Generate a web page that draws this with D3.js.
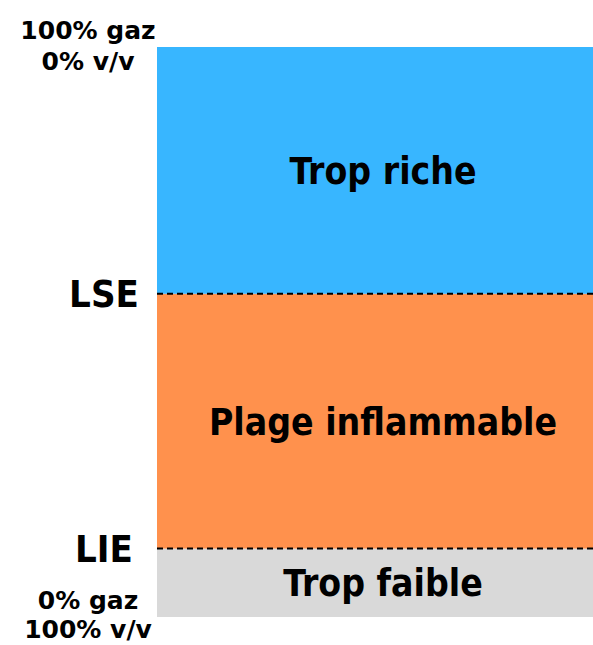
<!DOCTYPE html>
<html>
<head>
<meta charset="utf-8">
<script src="https://cdn.jsdelivr.net/npm/d3@7"></script>
<style>
  body { margin: 0; background: #fff; overflow: hidden; }
  text { font-family: "DejaVu Sans", sans-serif; font-weight: bold; fill: #000; }
  .big { font-family: "DejaVu Sans Condensed", "DejaVu Sans", sans-serif; font-stretch: condensed; }
</style>
</head>
<body>
<div id="chart"></div>
<script>
// bands, bottom to top (% of scale)
const bandNames = ["Trop faible", "Plage inflammable", "Trop riche"];
const bandStart = [0, 12, 56.7];
const bandEnd = [12, 56.7, 100];
const bandColors = ["#d9d9d9", "#ff914d", "#38b6ff"];

// limits drawn as dashed lines
const limitNames = ["LIE", "LSE"];
const limitValues = [12, 56.7];

// end labels
const topLabel = ["100% gaz", "0% v/v"];
const bottomLabel = ["0% gaz", "100% v/v"];

const width = 593, height = 645;
const margin = {top: 47, right: -16, bottom: 28, left: 157};

const svg = d3.select("#chart")
  .append("svg")
    .attr("width", width)
    .attr("height", height);

const y = d3.scaleLinear()
  .domain([0, 100])
  .range([height - margin.bottom, margin.top]);

// column runs a little past the right edge
const x = d3.scaleBand()
  .domain(["col"])
  .range([margin.left, width - margin.right])
  .padding(0);

const bands = bandNames.map((n, i) => ({name: n, y0: bandStart[i], y1: bandEnd[i], color: bandColors[i]}));

svg.append("g")
  .selectAll("rect")
  .data(bands)
  .enter()
  .append("rect")
    .attr("x", x("col"))
    .attr("width", x.bandwidth())
    .attr("y", d => y(d.y1))
    .attr("height", d => y(d.y0) - y(d.y1))
    .style("fill", d => d.color);

svg.append("g")
  .selectAll("text")
  .data(bands)
  .enter()
  .append("text")
    .attr("class", "big")
    .attr("x", x("col") + x.bandwidth() / 2)
    .attr("y", d => (y(d.y0) + y(d.y1)) / 2)
    .attr("dy", "0.36em")
    .attr("text-anchor", "middle")
    .style("font-size", "37px")
    .text(d => d.name);

// dashed limit lines
svg.append("g")
  .selectAll("line")
  .data(limitValues)
  .enter()
  .append("line")
    .attr("x1", x("col"))
    .attr("x2", width)
    .attr("y1", d => y(d))
    .attr("y2", d => y(d))
    .attr("stroke", "#000")
    .attr("stroke-width", 2)
    .attr("stroke-dasharray", "6,4");

// limit labels
svg.append("g")
  .selectAll("text")
  .data(limitNames)
  .enter()
  .append("text")
    .attr("class", "big")
    .attr("x", 104)
    .attr("y", (d, i) => y(limitValues[i]))
    .attr("dy", "0.36em")
    .attr("text-anchor", "middle")
    .style("font-size", "38px")
    .text(d => d);

// end labels
const ends = svg.append("g")
  .attr("text-anchor", "middle")
  .style("font-size", "25px");

ends.selectAll(".top")
  .data(topLabel)
  .enter()
  .append("text")
    .attr("class", "top")
    .attr("x", 88)
    .attr("y", (d, i) => y(100) - 8 + i * 31)
    .text(d => d);

ends.selectAll(".bottom")
  .data(bottomLabel)
  .enter()
  .append("text")
    .attr("class", "bottom")
    .attr("x", 88)
    .attr("y", (d, i) => y(0) - 8 + i * 29)
    .text(d => d);
</script>
</body>
</html>
